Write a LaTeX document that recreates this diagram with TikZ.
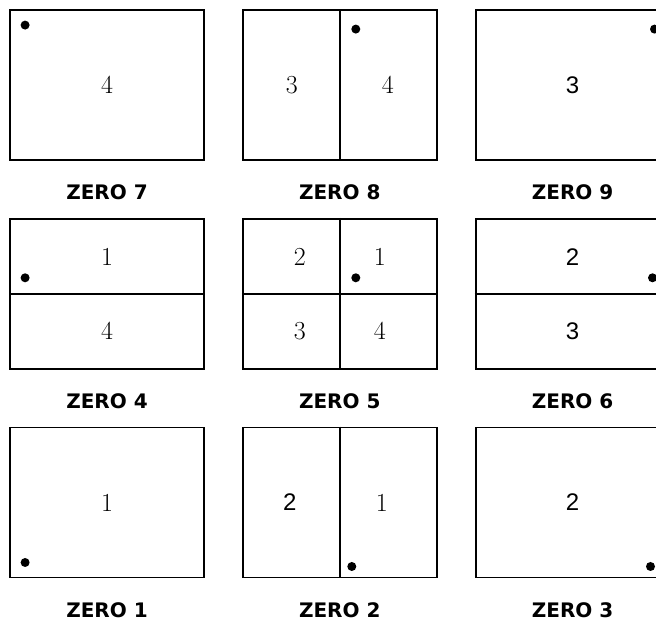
\documentclass[tikz,border=0pt]{standalone}
\usepackage{fontspec}
\usepackage{tikz}
\usetikzlibrary{positioning}
\newfontfamily\capfont{DejaVu Sans}
\newfontfamily\numsans{Liberation Sans}

\begin{document}
\begin{tikzpicture}[x=1pt,y=1pt,node distance=57pt and 37pt,
  panel/.style={draw,line width=1.8pt,minimum width=194pt,minimum height=150pt,inner sep=0pt},
  split/.style={line width=1.8pt},
  digit/.style={font=\fontsize{26}{26}\selectfont,inner sep=0pt},
  digitsf/.style={font=\numsans\fontsize{24}{24}\selectfont,inner sep=0pt},
  caption/.style={font=\capfont\bfseries\fontsize{20}{20}\selectfont,inner sep=0pt}]
\clip (0,0) rectangle (656,623);
% panels, keypad order
\node[panel] (z7) at (107,538) {};
\node[panel,right=of z7] (z8) {};
\node[panel,right=of z8] (z9) {};
\node[panel,below=of z7] (z4) {};
\node[panel,right=of z4] (z5) {};
\node[panel,right=of z5] (z6) {};
\node[panel,below=of z4] (z1) {};
\node[panel,right=of z1] (z2) {};
\node[panel,right=of z2] (z3) {};
% dividing lines
\draw[split] (z8.north) -- (z8.south);
\draw[split] (z4.west) -- (z4.east);
\draw[split] (z5.north) -- (z5.south);
\draw[split] (z5.west) -- (z5.east);
\draw[split] (z6.west) -- (z6.east);
\draw[split] (z2.north) -- (z2.south);
% quadrant numbers
\node[digit] (n7) at (z7) {4};
\node[digit] (n8a) at ([xshift=-48pt]z8.center) {3};
\node[digit] (n8b) at ([xshift=48pt]z8.center) {4};
\node[digitsf] (n9) at (z9) {3};
\node[digit] (n4a) at ([yshift=37pt]z4.center) {1};
\node[digit] (n4b) at ([yshift=-37pt]z4.center) {4};
\node[digit] (n5a) at ([shift={(-40,37)}]z5.center) {2};
\node[digit] (n5b) at ([shift={(40,37)}]z5.center) {1};
\node[digit] (n5c) at ([shift={(-40,-37)}]z5.center) {3};
\node[digit] (n5d) at ([shift={(40,-37)}]z5.center) {4};
\node[digitsf] (n6a) at ([yshift=37pt]z6.center) {2};
\node[digitsf] (n6b) at ([yshift=-37pt]z6.center) {3};
\node[digit] (n1) at (z1) {1};
\node[digitsf] (n2a) at ([xshift=-50pt]z2.center) {2};
\node[digit] (n2b) at ([xshift=42pt]z2.center) {1};
\node[digitsf] (n3) at (z3) {2};
% origin dots
\fill ([shift={(16,-16)}]z7.north west) circle (4.5);
\fill ([shift={(16,-20)}]z8.north) circle (4.5);
\fill ([shift={(-16,-20)}]z9.north east) circle (4.5);
\fill ([shift={(16,16)}]z4.west) circle (4.5);
\fill ([shift={(16,16)}]z5.center) circle (4.5);
\fill ([shift={(-18,16)}]z6.east) circle (4.5);
\fill ([shift={(16,16)}]z1.south west) circle (4.5);
\fill ([shift={(12,12)}]z2.south) circle (4.5);
\fill ([shift={(-20,12)}]z3.south east) circle (4.5);
% captions
\node[caption,below=24pt of z7] (c7) {ZERO 7};
\node[caption,below=24pt of z8] (c8) {ZERO 8};
\node[caption,below=24pt of z9] (c9) {ZERO 9};
\node[caption,below=24pt of z4] (c4) {ZERO 4};
\node[caption,below=24pt of z5] (c5) {ZERO 5};
\node[caption,below=24pt of z6] (c6) {ZERO 6};
\node[caption,below=24pt of z1] (c1) {ZERO 1};
\node[caption,below=24pt of z2] (c2) {ZERO 2};
\node[caption,below=24pt of z3] (c3) {ZERO 3};
\end{tikzpicture}
\end{document}
